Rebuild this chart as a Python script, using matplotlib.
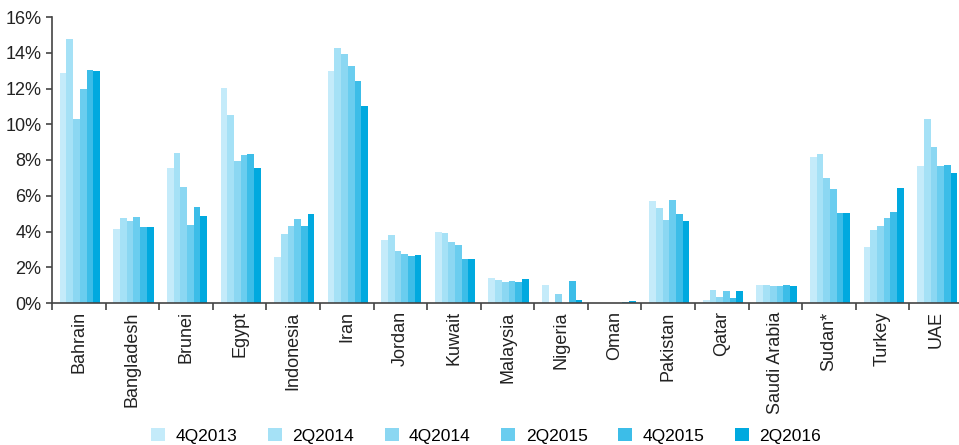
import numpy as np
import matplotlib.pyplot as plt
from matplotlib.ticker import PercentFormatter

plt.rcParams['font.family'] = ['Liberation Sans', 'DejaVu Sans']

countries = ['Bahrain', 'Bangladesh', 'Brunei', 'Egypt', 'Indonesia', 'Iran', 'Jordan',
             'Kuwait', 'Malaysia', 'Nigeria', 'Oman', 'Pakistan', 'Qatar', 'Saudi Arabia',
             'Sudan*', 'Turkey', 'UAE']
periods = ['4Q2013', '2Q2014', '4Q2014', '2Q2015', '4Q2015', '2Q2016']

q4_2013 = [12.85, 4.13, 7.58, 12.01, 2.55, 12.98, 3.54, 3.97, 1.40, 0.98, 0.0, 5.68, 0.18, 1.02, 8.14, 3.16, 7.67]
q2_2014 = [14.77, 4.75, 8.41, 10.50, 3.85, 14.25, 3.78, 3.91, 1.26, -0.12, 0.0, 5.31, 0.70, 1.02, 8.36, 4.06, 10.28]
q4_2014 = [10.28, 4.56, 6.51, 7.97, 4.32, 13.91, 2.92, 3.44, 1.17, 0.52, 0.0, 4.64, 0.35, 0.95, 7.02, 4.30, 8.75]
q2_2015 = [11.96, 4.80, 4.37, 8.28, 4.69, 13.24, 2.74, 3.24, 1.23, 0.0, 0.02, 5.75, 0.65, 0.95, 6.39, 4.78, 7.65]
q4_2015 = [13.03, 4.25, 5.36, 8.36, 4.28, 12.40, 2.64, 2.44, 1.17, 1.23, 0.06, 4.99, 0.30, 1.02, 5.01, 5.08, 7.73]
q2_2016 = [13.00, 4.25, 4.88, 7.58, 5.00, 11.02, 2.66, 2.47, 1.34, 0.17, 0.10, 4.61, 0.67, 0.95, 5.06, 6.44, 7.28]

series = [q4_2013, q2_2014, q4_2014, q2_2015, q4_2015, q2_2016]
colors = ['#c4ebfa', '#a5e1f6', '#8bd7f2', '#6acdef', '#3cbde8', '#00a9df']

fig = plt.figure(figsize=(9.59, 4.45), dpi=100)
ax = fig.add_axes([52/959, 1 - 303/445, 911/959, 286/445])

x = np.arange(len(countries))
w = 0.75 / 6
for i, (vals, c, lab) in enumerate(zip(series, colors, periods)):
    ax.bar(x - 0.375 + w * (i + 0.5) + 0.02, vals, width=w, color=c, label=lab, linewidth=0)

ax.set_xlim(-0.5, len(countries) - 0.5)
ax.set_ylim(0, 16)
ax.set_yticks(np.arange(0, 17, 2))
ax.yaxis.set_major_formatter(PercentFormatter(decimals=0))

ax.set_xticks(np.arange(len(countries) + 1) - 0.5)
ax.set_xticklabels([])
ax.set_xticks(x, minor=True)
ax.set_xticklabels(countries, minor=True, rotation=90, fontsize=13, color='#222222')
ax.tick_params(axis='x', which='minor', length=0, pad=6)
ax.tick_params(axis='x', which='major', length=5, width=1.2, color='#444444', direction='out')
ax.tick_params(axis='y', length=4.5, width=1.2, color='#444444', labelsize=13,
               labelcolor='#222222', direction='out', pad=3)

for s in ['top', 'right']:
    ax.spines[s].set_visible(False)
for s in ['left', 'bottom']:
    ax.spines[s].set_color('#444444')
    ax.spines[s].set_linewidth(1.2)

fig.legend(loc='center', bbox_to_anchor=(0.507, 1 - 436/445), ncol=6, frameon=False,
           fontsize=12.5, handlelength=0.8, handleheight=0.8, columnspacing=1.77,
           handletextpad=0.6)

fig.savefig('out.png', dpi=100)
